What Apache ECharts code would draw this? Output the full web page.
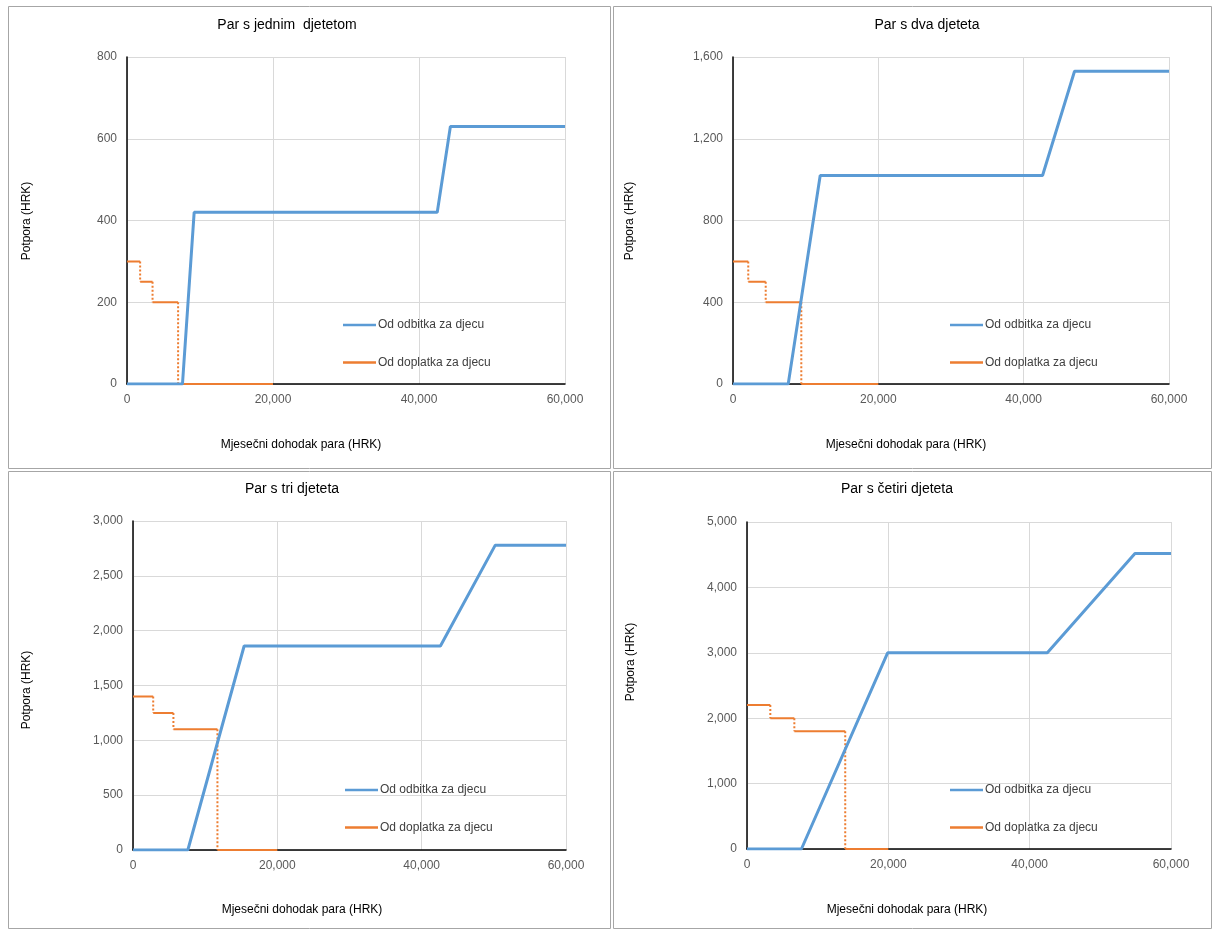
<!DOCTYPE html>
<html>
<head>
<meta charset="utf-8">
<script src="https://cdn.jsdelivr.net/npm/echarts@6/dist/echarts.min.js"></script>
<style>
html,body{margin:0;padding:0;background:#fff;}
#c{width:1212px;height:929px;}
</style>
</head>
<body>
<div id="c"></div>
<script>
// ---- data ----
const panelTitles = ['Par s jednim  djetetom', 'Par s dva djeteta', 'Par s tri djeteta', 'Par s četiri djeteta'];
const seriesNames = ['Od odbitka za djecu', 'Od doplatka za djecu'];
const xAxisTitle = 'Mjesečni dohodak para (HRK)';
const yAxisTitle = 'Potpora (HRK)';
const xMax = 60000, xStep = 20000;
const yMaxes = [800, 1600, 3000, 5000];
const ySteps = [200, 400, 500, 1000];

// Od odbitka za djecu: [income, support] corner points
const odbitak1 = [[0, 0], [7600, 0], [9200, 420], [42500, 420], [44300, 630], [60000, 630]];
const odbitak2 = [[0, 0], [7600, 0], [12000, 1020], [42600, 1020], [47000, 1530], [60000, 1530]];
const odbitak3 = [[0, 0], [7600, 0], [15400, 1860], [42600, 1860], [50200, 2780], [60000, 2780]];
const odbitak4 = [[0, 0], [7700, 0], [19900, 3000], [42500, 3000], [54900, 4520], [60000, 4520]];

// Od doplatka za djecu: income breakpoints and support levels between them
const doplatak1Breaks = [0, 1800, 3500, 7000];
const doplatak1Levels = [300, 250, 200];
const doplatak2Breaks = [0, 2100, 4500, 9400];
const doplatak2Levels = [600, 500, 400];
const doplatak3Breaks = [0, 2800, 5600, 11700];
const doplatak3Levels = [1400, 1250, 1100];
const doplatak4Breaks = [0, 3300, 6700, 13900];
const doplatak4Levels = [2200, 2000, 1800];
const doplatakZeroEnd = 20000;

const odbitakAll = [odbitak1, odbitak2, odbitak3, odbitak4];
const doplatakBreaksAll = [doplatak1Breaks, doplatak2Breaks, doplatak3Breaks, doplatak4Breaks];
const doplatakLevelsAll = [doplatak1Levels, doplatak2Levels, doplatak3Levels, doplatak4Levels];

// ---- layout ----
const FONT = "'Liberation Sans', Arial, sans-serif";
const BLUE = '#5b9bd5', ORANGE = '#ed7d31';
const panels = [
  {box:[8,6,602,462], grid:{left:127, top:57, width:438, height:327}, title:[287,25], xName:[301,445], yName:[27,221], legend:[343,319]},
  {box:[613,6,598,462], grid:{left:733, top:57, width:436, height:327}, title:[927,25], xName:[906,445], yName:[630,221], legend:[950,319]},
  {box:[8,471,602,457], grid:{left:133, top:521, width:433, height:329}, title:[292,489], xName:[302,910], yName:[27,690], legend:[345,784]},
  {box:[613,471,598,457], grid:{left:747, top:522, width:424, height:327}, title:[897,489], xName:[907,910], yName:[631,662], legend:[950,784]}
];

function fmt(v){ return Math.round(v).toLocaleString('en-US'); }

function doplatakSolid(breaks, levels){
  const d = [];
  for (let i = 0; i < levels.length; i++){
    d.push([breaks[i], levels[i]]);
    d.push([breaks[i+1], levels[i]]);
    d.push([breaks[i+1], '-']);
  }
  d.push([breaks[breaks.length-1], 0]);
  d.push([doplatakZeroEnd, 0]);
  return d;
}
function doplatakDotted(breaks, levels){
  const d = [];
  for (let i = 1; i < breaks.length; i++){
    const next = i < levels.length ? levels[i] : 0;
    d.push([breaks[i], levels[i-1]]);
    d.push([breaks[i], next]);
    d.push([breaks[i], '-']);
  }
  return d;
}

const grids = [], xAxes = [], yAxes = [], series = [], legends = [], graphics = [];
panels.forEach((p, i) => {
  grids.push(Object.assign({containLabel:false}, p.grid));
  xAxes.push({
    type:'value', gridIndex:i, min:0, max:xMax, interval:xStep,
    axisLine:{show:true, onZero:false, lineStyle:{color:'#000', width:1.5}},
    axisTick:{show:false},
    axisLabel:{color:'#595959', fontSize:12, fontFamily:FONT, margin:10, formatter:fmt},
    splitLine:{show:true, lineStyle:{color:'#d9d9d9', width:1}}
  });
  yAxes.push({
    type:'value', gridIndex:i, min:0, max:yMaxes[i], interval:ySteps[i],
    axisLine:{show:true, lineStyle:{color:'#000', width:1.5}},
    axisTick:{show:false},
    axisLabel:{color:'#595959', fontSize:12, fontFamily:FONT, margin:10, formatter:fmt},
    splitLine:{show:true, lineStyle:{color:'#d9d9d9', width:1}}
  });
  series.push({
    name:seriesNames[1], type:'line', xAxisIndex:i, yAxisIndex:i,
    data:doplatakSolid(doplatakBreaksAll[i], doplatakLevelsAll[i]),
    symbol:'none', showSymbol:false, connectNulls:false, z:3,
    lineStyle:{color:ORANGE, width:2}, itemStyle:{color:ORANGE}
  });
  series.push({
    name:'doplatak-prijelaz', type:'line', xAxisIndex:i, yAxisIndex:i,
    data:doplatakDotted(doplatakBreaksAll[i], doplatakLevelsAll[i]),
    symbol:'none', showSymbol:false, connectNulls:false, z:3,
    lineStyle:{color:ORANGE, width:2, type:[2,2]}, itemStyle:{color:ORANGE}
  });
  series.push({
    name:seriesNames[0], type:'line', xAxisIndex:i, yAxisIndex:i,
    data:odbitakAll[i], symbol:'none', showSymbol:false, z:4,
    lineStyle:{color:BLUE, width:3}, itemStyle:{color:BLUE}
  });
  legends.push({
    data:[
      {name:seriesNames[0], icon:'rect', itemStyle:{color:BLUE}},
      {name:seriesNames[1], icon:'rect', itemStyle:{color:ORANGE}}
    ],
    orient:'vertical', left:p.legend[0], top:p.legend[1],
    itemWidth:33, itemHeight:2.5, itemGap:25.5, padding:0, selectedMode:false,
    textStyle:{color:'#404040', fontSize:12, fontFamily:FONT, padding:[0,0,0,-3]}
  });
  graphics.push({type:'rect', silent:true, shape:{x:p.box[0]+0.5, y:p.box[1]+0.5, width:p.box[2], height:p.box[3]},
    style:{fill:null, stroke:'#a6a6a6', lineWidth:1}});
  graphics.push({type:'text', silent:true, x:p.title[0], y:p.title[1],
    style:{text:panelTitles[i], fill:'#000', font:'14px ' + FONT, textAlign:'center', textVerticalAlign:'middle'}});
  graphics.push({type:'text', silent:true, x:p.xName[0], y:p.xName[1],
    style:{text:xAxisTitle, fill:'#000', font:'12px ' + FONT, textAlign:'center', textVerticalAlign:'middle'}});
  graphics.push({type:'text', silent:true, x:p.yName[0], y:p.yName[1], rotation:Math.PI/2,
    style:{text:yAxisTitle, fill:'#000', font:'12px ' + FONT, textAlign:'center', textVerticalAlign:'middle'}});
});

const chart = echarts.init(document.getElementById('c'), null, {renderer:'canvas'});
chart.setOption({
  animation:false,
  backgroundColor:'#fff',
  grid:grids, xAxis:xAxes, yAxis:yAxes, series:series, legend:legends,
  graphic:graphics
});
</script>
</body>
</html>
